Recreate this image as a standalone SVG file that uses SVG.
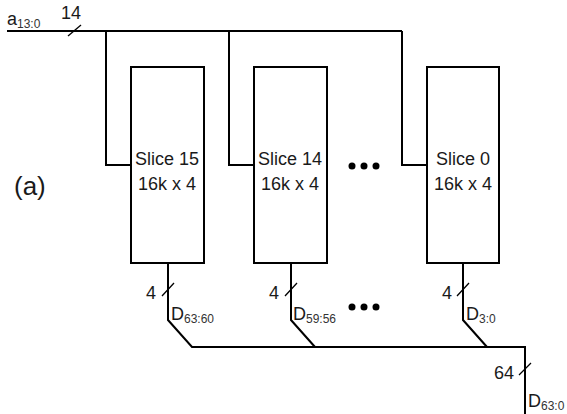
<svg xmlns="http://www.w3.org/2000/svg" width="567" height="414" viewBox="0 0 567 414">
<style>
.w{fill:none;stroke:#000;stroke-width:2}
.s{fill:none;stroke:#000;stroke-width:1.3}
.box{fill:#fff;stroke:#000;stroke-width:2}
text{font-family:"Liberation Sans","Open Sans",sans-serif;fill:#1a1a1a}
.t{font-size:18px;text-anchor:middle}
.l{font-size:18px}
.sub{font-size:12px;fill:#333}
.dot{fill:#000}
</style>
<rect width="567" height="414" fill="#fff"/>
<g id="connectors">
<path class="w" d="M7,31 H402 M106,31 V165 H131 M229,31 V165 H254 M402,31 V165 H427"/>
<path class="s" d="M68,36 L81,25"/>
<path class="w" d="M168,263 V320 L192,347 H525 V414 M291,263 V320 L315,347 M463,263 V320 L487,347"/>
<path class="s" d="M162,296 L174,283 M285,296 L297,283 M457,296 L469,283 M519,375 L531,363"/>
</g>
<g id="slice15"><rect class="box" x="131" y="67" width="73" height="196"/><text class="t" x="167" y="165">Slice 15</text><text class="t" x="167" y="190">16k x 4</text></g>
<g id="slice14"><rect class="box" x="254" y="67" width="73" height="196"/><text class="t" x="290" y="165">Slice 14</text><text class="t" x="290" y="190">16k x 4</text></g>
<g id="slice0"><rect class="box" x="427" y="67" width="72" height="196"/><text class="t" x="463" y="165">Slice 0</text><text class="t" x="463" y="190">16k x 4</text></g>
<g id="dots">
<circle class="dot" cx="352" cy="166" r="3.5"/><circle class="dot" cx="364" cy="166" r="3.5"/><circle class="dot" cx="376" cy="166" r="3.5"/>
<circle class="dot" cx="352" cy="307" r="3.5"/><circle class="dot" cx="364" cy="307" r="3.5"/><circle class="dot" cx="376" cy="307" r="3.5"/>
</g>
<g id="labels">
<text x="7" y="25" class="l">a<tspan class="sub" dy="3">13:0</tspan></text>
<text x="61" y="19" class="l">14</text>
<text x="14" y="195" style="font-size:26px">(a)</text>
<text x="146" y="299" class="l">4</text>
<text x="269" y="299" class="l">4</text>
<text x="442" y="299" class="l">4</text>
<text x="171" y="320" class="l">D<tspan class="sub" dy="3">63:60</tspan></text>
<text x="293" y="320" class="l">D<tspan class="sub" dy="3">59:56</tspan></text>
<text x="466" y="320" class="l">D<tspan class="sub" dy="3">3:0</tspan></text>
<text x="494" y="379" class="l">64</text>
<text x="528" y="407" class="l">D<tspan class="sub" dy="3">63:0</tspan></text>
</g>
</svg>
